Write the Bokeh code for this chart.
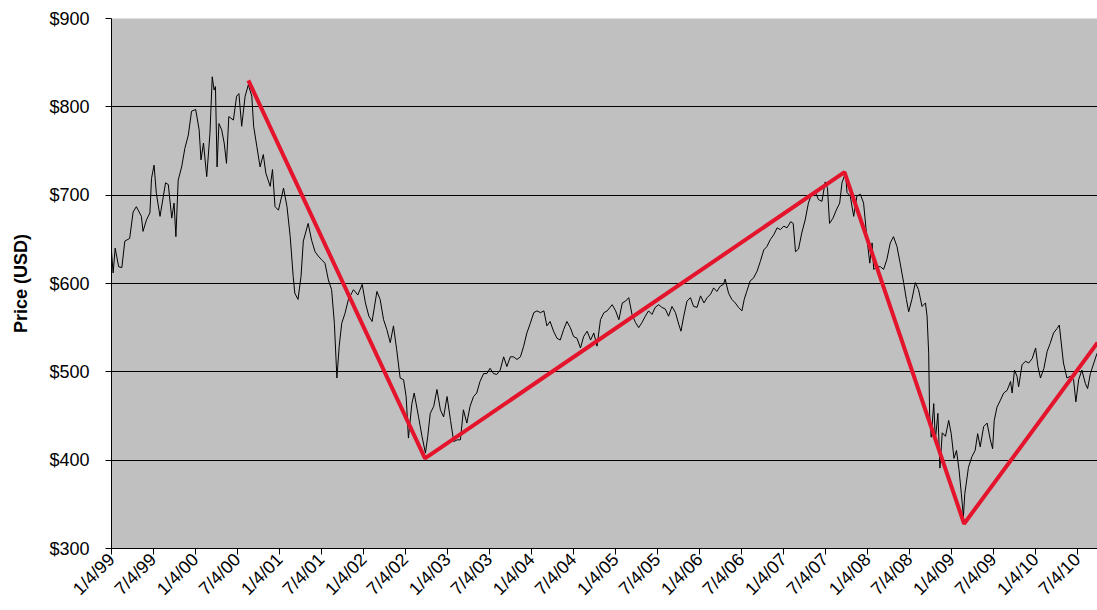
import math
import pandas as pd
from bokeh.plotting import figure
from bokeh.models import Range1d, FixedTicker, NumeralTickFormatter, ColumnDataSource
from bokeh.embed import file_html
from bokeh.resources import INLINE

# ---- data ----
price_dates = [
    "1999-01-04", "1999-01-11", "1999-01-20", "1999-02-04", "1999-02-18", "1999-03-03", "1999-03-24",
    "1999-04-08", "1999-04-22", "1999-05-14", "1999-05-21", "1999-06-05", "1999-06-20", "1999-06-27",
    "1999-07-08", "1999-07-18", "1999-08-03", "1999-08-17", "1999-08-27", "1999-09-08", "1999-09-23",
    "1999-10-03", "1999-10-11", "1999-10-21", "1999-11-05", "1999-11-19", "1999-12-04", "1999-12-18",
    "2000-01-05", "2000-01-20", "2000-01-28", "2000-02-08", "2000-02-22", "2000-03-07", "2000-03-17",
    "2000-03-25", "2000-03-31", "2000-04-07", "2000-04-15", "2000-04-27", "2000-05-08", "2000-05-18",
    "2000-05-28", "2000-06-17", "2000-07-01", "2000-07-11", "2000-07-23", "2000-08-07", "2000-08-21",
    "2000-09-05", "2000-09-13", "2000-09-27", "2000-10-11", "2000-10-25", "2000-11-05", "2000-11-24",
    "2000-12-04", "2000-12-15", "2000-12-30", "2001-01-21", "2001-02-05", "2001-02-19", "2001-03-04",
    "2001-03-11", "2001-03-25", "2001-04-07", "2001-04-17", "2001-05-08", "2001-05-23", "2001-06-07",
    "2001-06-21", "2001-07-05", "2001-07-20", "2001-08-04", "2001-08-18", "2001-08-30", "2001-09-10",
    "2001-09-20", "2001-10-01", "2001-10-15", "2001-10-30", "2001-11-21", "2001-12-10",
    "2001-12-29", "2002-01-12", "2002-01-27", "2002-02-10", "2002-03-03", "2002-03-17", "2002-04-01",
    "2002-04-15", "2002-04-30", "2002-05-14", "2002-05-28", "2002-06-12", "2002-06-27", "2002-07-08",
    "2002-07-18", "2002-08-02", "2002-08-12", "2002-08-31", "2002-09-15", "2002-09-30", "2002-10-10",
    "2002-10-21", "2002-11-05", "2002-11-19", "2002-12-04", "2002-12-18", "2003-01-02", "2003-01-17",
    "2003-01-31", "2003-02-15", "2003-03-01", "2003-03-14", "2003-03-29", "2003-04-12", "2003-04-27",
    "2003-05-11", "2003-05-25", "2003-06-10", "2003-06-24", "2003-07-08", "2003-07-23", "2003-08-06",
    "2003-08-21", "2003-09-05", "2003-09-19", "2003-10-04", "2003-10-18", "2003-11-02", "2003-11-17",
    "2003-12-01", "2003-12-15", "2003-12-30", "2004-01-14", "2004-01-28", "2004-02-12", "2004-02-27",
    "2004-03-11", "2004-03-25", "2004-04-09", "2004-04-24", "2004-05-08", "2004-05-23", "2004-06-06",
    "2004-06-21", "2004-07-05", "2004-07-20", "2004-08-04", "2004-08-18", "2004-09-02", "2004-09-17",
    "2004-10-01", "2004-10-15", "2004-10-30",
    "2004-11-14", "2004-11-28", "2004-12-20", "2005-01-04", "2005-01-18", "2005-02-02", "2005-02-16",
    "2005-03-02", "2005-03-16", "2005-03-31", "2005-04-14", "2005-04-29", "2005-05-13", "2005-05-27",
    "2005-06-11", "2005-06-25", "2005-07-10", "2005-07-24", "2005-08-08", "2005-08-22", "2005-09-06",
    "2005-09-21", "2005-10-05", "2005-10-15", "2005-10-27", "2005-11-10", "2005-11-25", "2005-12-09",
    "2005-12-24", "2006-01-08", "2006-01-23", "2006-02-06", "2006-02-21", "2006-03-06", "2006-03-20",
    "2006-04-04", "2006-04-18", "2006-04-25", "2006-05-10", "2006-05-24", "2006-06-08", "2006-06-22",
    "2006-07-07", "2006-07-17", "2006-07-28", "2006-08-12", "2006-08-26", "2006-09-11", "2006-09-25",
    "2006-10-10", "2006-10-24", "2006-11-08", "2006-11-22", "2006-12-07", "2006-12-21", "2007-01-05",
    "2007-01-19", "2007-02-04", "2007-02-15", "2007-02-25", "2007-03-10", "2007-03-24", "2007-04-08",
    "2007-04-22", "2007-05-07", "2007-05-21", "2007-06-05", "2007-06-20", "2007-07-04", "2007-07-14",
    "2007-07-23", "2007-08-07", "2007-08-21", "2007-09-05", "2007-09-15", "2007-09-30",
    "2007-10-07", "2007-10-21", "2007-11-05", "2007-11-19", "2007-12-04", "2007-12-18", "2008-01-02",
    "2008-01-14", "2008-01-24", "2008-01-31", "2008-02-15", "2008-02-29", "2008-03-14", "2008-03-28",
    "2008-04-12", "2008-04-26", "2008-05-11", "2008-05-25", "2008-06-09", "2008-06-21", "2008-07-01",
    "2008-07-15", "2008-07-30", "2008-08-13", "2008-08-28", "2008-09-12", "2008-09-19", "2008-09-26",
    "2008-09-30", "2008-10-07", "2008-10-18", "2008-10-25", "2008-11-05", "2008-11-14", "2008-11-24",
    "2008-12-08", "2008-12-22", "2009-01-02", "2009-01-14", "2009-01-25", "2009-02-05", "2009-02-15",
    "2009-02-24", "2009-03-02", "2009-03-08", "2009-03-18", "2009-04-02", "2009-04-16", "2009-04-27",
    "2009-05-08", "2009-05-23", "2009-06-07", "2009-06-21", "2009-07-01", "2009-07-08", "2009-07-20",
    "2009-08-04", "2009-08-18", "2009-09-02", "2009-09-17", "2009-09-24", "2009-10-04", "2009-10-15",
    "2009-10-22", "2009-11-06", "2009-11-21", "2009-12-05", "2009-12-20", "2010-01-04", "2010-01-14",
    "2010-01-25", "2010-02-09", "2010-02-23", "2010-03-08", "2010-03-23", "2010-04-07", "2010-04-17",
    "2010-04-24", "2010-05-05", "2010-05-20", "2010-06-04", "2010-06-18", "2010-06-28", "2010-07-10",
    "2010-07-24", "2010-08-08", "2010-08-18", "2010-08-30", "2010-09-14", "2010-09-28",
]
price_values = [
    636, 612, 640, 619, 618, 648, 651,
    681, 687, 676, 659, 672, 680, 719,
    734, 702, 676, 698, 714, 712, 674,
    691, 653, 717, 732, 753, 768, 795,
    797, 774, 740, 759, 721, 770, 834,
    819, 823, 732, 781, 774, 759, 736,
    789, 785, 812, 815, 778, 812, 825,
    812, 778, 755, 732, 746, 725, 710,
    729, 687, 683, 708, 687, 653, 608,
    589, 582, 608, 648, 668, 649, 636,
    631, 627, 623, 604, 593, 555, 493,
    529, 555, 566, 582, 593, 587,
    599, 578, 563, 557, 591, 582, 559,
    548, 533, 552, 525, 493, 491, 472,
    425, 464, 476, 449, 427, 408, 427,
    453, 461, 480, 457, 449, 472, 445,
    421, 423, 423, 457, 442, 461, 472,
    476, 489, 498, 498, 504, 498, 497,
    502, 517, 506, 517, 517, 514, 517,
    529, 544, 555, 567, 569, 567, 569,
    552, 557, 546, 538, 536, 548, 557,
    550, 540, 538, 527, 540, 546, 536,
    544, 529, 559,
    567, 569, 576, 569, 559, 578, 580,
    584, 565, 556, 550, 556, 563, 569,
    565, 573, 576, 573, 571, 563, 574,
    567, 554, 546, 563, 580, 584, 574,
    573, 586, 578, 584, 588, 595, 591,
    597, 599, 605, 589, 582, 578, 573,
    569, 582, 591, 603, 606, 614, 625,
    638, 642, 650, 655, 663, 661, 665,
    663, 670, 668, 636, 639, 657, 672,
    691, 702, 704, 695, 693, 715, 708,
    668, 674, 683, 691, 714, 725,
    703, 699, 676, 699, 701, 691, 650,
    623, 646, 616, 619, 619, 616, 627,
    646, 653, 642, 623, 601, 582, 568,
    582, 601, 593, 574, 578, 563, 521,
    453, 426, 464, 423, 453, 391, 431,
    427, 445, 430, 402, 411, 389, 362,
    336, 362, 373, 392, 404, 411, 430,
    415, 438, 442, 423, 413, 445, 460,
    468, 476, 479, 489, 476, 502, 495,
    483, 508, 512, 510, 515, 527, 506,
    493, 504, 523, 532, 544, 549, 553,
    536, 510, 493, 495, 491, 466, 491,
    502, 487, 481, 498, 510, 521,
]

trend_dates = ["2000-08-21", "2002-09-28", "2007-09-26", "2009-02-27", "2010-09-30"]
trend_values = [830, 402, 726, 328, 533]

x_tick_labels = [
    "1/4/99", "7/4/99", "1/4/00", "7/4/00", "1/4/01", "7/4/01", "1/4/02", "7/4/02",
    "1/4/03", "7/4/03", "1/4/04", "7/4/04", "1/4/05", "7/4/05", "1/4/06", "7/4/06",
    "1/4/07", "7/4/07", "1/4/08", "7/4/08", "1/4/09", "7/4/09", "1/4/10", "7/4/10",
]
y_ticks = [300, 400, 500, 600, 700, 800, 900]

x_start = "1999-01-04"
x_end = "2010-09-30"

# ---- build ----
price_src = ColumnDataSource(dict(date=pd.to_datetime(price_dates), price=price_values))
trend_src = ColumnDataSource(dict(date=pd.to_datetime(trend_dates), price=trend_values))

tick_ts = [pd.to_datetime(s, format="%m/%d/%y") for s in x_tick_labels]
tick_ms = [float(t.value // 10**6) for t in tick_ts]

FONT = "Liberation Sans"

p = figure(
    width=1097, height=610,
    x_axis_type="datetime",
    x_range=Range1d(pd.Timestamp(x_start), pd.Timestamp(x_end)),
    y_range=Range1d(300, 900),
    output_backend="svg", toolbar_location=None,
    min_border_left=111, min_border_top=18, min_border_bottom=62, min_border_right=0,
)
p.background_fill_color = "#C0C0C0"
p.border_fill_color = "white"
p.outline_line_color = None

p.xgrid.visible = False
p.ygrid.ticker = FixedTicker(ticks=y_ticks)
p.ygrid.grid_line_color = "black"
p.ygrid.grid_line_width = 1

p.line("date", "price", source=price_src, line_color="black", line_width=1)
p.line("date", "price", source=trend_src, line_color="#E4142C", line_width=4)

for ax in (p.xaxis[0], p.yaxis[0]):
    ax.axis_line_color = "black"
    ax.axis_line_width = 1
    ax.major_tick_line_color = "black"
    ax.major_tick_out = 6
    ax.major_tick_in = 0
    ax.minor_tick_line_color = None
    ax.major_label_text_font = FONT
    ax.major_label_text_color = "black"

p.yaxis.ticker = FixedTicker(ticks=y_ticks)
p.yaxis.formatter = NumeralTickFormatter(format="$0")
p.yaxis.major_label_text_font_size = "18px"
p.yaxis.major_label_standoff = 16
p.yaxis.axis_label = "Price (USD)"
p.yaxis.axis_label_text_font = FONT
p.yaxis.axis_label_text_font_size = "18px"
p.yaxis.axis_label_text_font_style = "bold"
p.yaxis.axis_label_text_color = "black"
p.yaxis.axis_label_standoff = 15

p.xaxis.ticker = FixedTicker(ticks=tick_ms)
p.xaxis.major_label_overrides = {ms: lab for ms, lab in zip(tick_ms, x_tick_labels)}
p.xaxis.major_label_orientation = math.pi / 4
p.xaxis.major_label_text_font_size = "18px"
p.xaxis.major_label_standoff = 2

open("out.html", "w").write(file_html(p, INLINE))
